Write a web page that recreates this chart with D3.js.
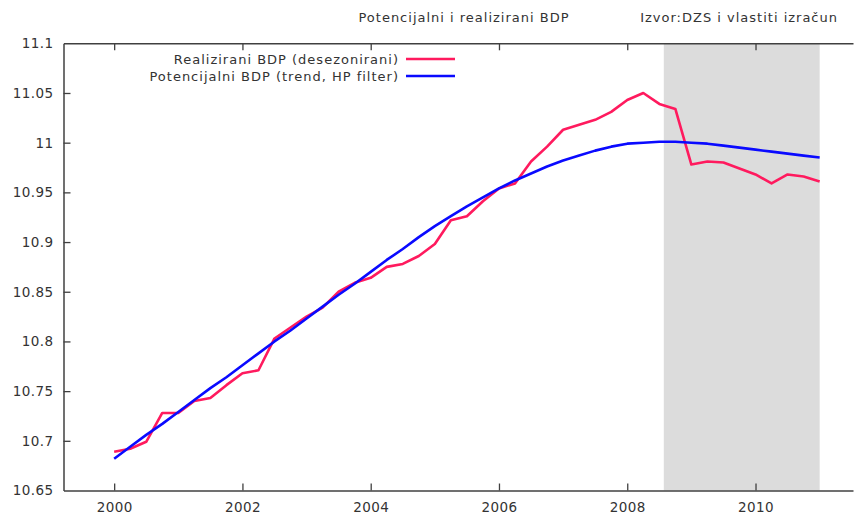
<!DOCTYPE html>
<html>
<head>
<meta charset="utf-8">
<script src="https://cdn.jsdelivr.net/npm/d3@7"></script>
<style>
  body { margin: 0; background: #fff; }
  svg { display: block; font-family: "DejaVu Sans", Verdana, sans-serif; }
  .tick text { fill: #333; }
  .label { font-size: 13px; letter-spacing: 1px; fill: #333; }
</style>
</head>
<body>
<svg width="854" height="516"></svg>
<script>
// quarterly, 2000Q1 .. 2011Q1
const startYear = 2000;
const realized = [
  10.689, 10.692, 10.699, 10.728,
  10.728, 10.740, 10.743, 10.756,
  10.768, 10.771, 10.803, 10.814,
  10.825, 10.834, 10.850, 10.859,
  10.864, 10.875, 10.878, 10.886,
  10.898, 10.922, 10.926, 10.941,
  10.954, 10.959, 10.981, 10.996,
  11.013, 11.018, 11.023, 11.031,
  11.043, 11.050, 11.039, 11.034,
  10.978, 10.981, 10.980, 10.974,
  10.968, 10.959, 10.968, 10.966,
  10.961,
];
const potential = [
  10.682, 10.694, 10.706, 10.717,
  10.729, 10.741, 10.753, 10.764,
  10.776, 10.788, 10.800, 10.811,
  10.823, 10.835, 10.847, 10.858,
  10.870, 10.882, 10.893, 10.905,
  10.916, 10.926, 10.936, 10.945,
  10.954, 10.962, 10.969, 10.976,
  10.982, 10.987, 10.992, 10.996,
  10.999, 11.000, 11.001, 11.001,
  11.000, 10.999, 10.997, 10.995,
  10.993, 10.991, 10.989, 10.987,
  10.985,
];
const shadeRange = [2008.57, 2011.0];
const xTicks = [2000, 2002, 2004, 2006, 2008, 2010];
const yTicks = [10.65, 10.7, 10.75, 10.8, 10.85, 10.9, 10.95, 11, 11.05, 11.1];
const seriesNames = ["Realizirani BDP (desezonirani)", "Potencijalni BDP (trend, HP filter)"];
const seriesColors = ["#ff1a5e", "#0a0aff"];

const svg = d3.select("svg");
const plotLeft = 63.5, plotRight = 853, plotTop = 43.3, plotBottom = 490.5;

const x = d3.scaleLinear().domain([1999.21, 2011.52]).range([plotLeft, plotRight]);
const y = d3.scaleLinear().domain([10.65, 11.1]).range([plotBottom, plotTop]);

// recession shading
svg.append("rect")
  .attr("x", x(shadeRange[0]))
  .attr("y", plotTop)
  .attr("width", x(shadeRange[1]) - x(shadeRange[0]))
  .attr("height", plotBottom - plotTop)
  .attr("fill", "#dcdcdc");

// axes
const axisColor = "#404040";
const xAxis = svg.append("g")
  .attr("transform", `translate(0,${plotBottom})`)
  .call(d3.axisBottom(x).tickValues(xTicks).tickFormat(d3.format("d")).tickSizeInner(-7).tickSizeOuter(0).tickPadding(12));
const xTop = svg.append("g")
  .attr("transform", `translate(0,${plotTop})`)
  .call(d3.axisTop(x).tickValues(xTicks).tickFormat("").tickSizeInner(-7).tickSizeOuter(0));
const yAxis = svg.append("g")
  .attr("transform", `translate(${plotLeft},0)`)
  .call(d3.axisLeft(y).tickValues(yTicks).tickFormat(d3.format("")).tickSizeInner(-7).tickSizeOuter(0).tickPadding(10));

[xAxis, xTop, yAxis].forEach((g) => {
  g.select(".domain").attr("stroke", axisColor).attr("stroke-width", 1.5);
  g.selectAll(".tick line").attr("stroke", axisColor).attr("stroke-width", 1.3);
  g.selectAll(".tick text").attr("font-size", 13.5).attr("font-family", "DejaVu Sans")
    .style("letter-spacing", "0.4px");
});
// the 10.65 / 11.1 ticks sit on the frame, keep only the labels
yAxis.selectAll(".tick").filter((d) => d === 10.65 || d === 11.1).select("line").remove();

// series
const line = d3.line()
  .x((d, i) => x(startYear + i / 4))
  .y((d) => y(d));

[realized, potential].forEach((s, i) => {
  svg.append("path")
    .datum(s)
    .attr("fill", "none")
    .attr("stroke", seriesColors[i])
    .attr("stroke-width", 2.6)
    .attr("stroke-linejoin", "round")
    .attr("d", line);
});

// legend
const legend = svg.append("g").attr("transform", "translate(0,59)");
seriesNames.forEach((name, i) => {
  const g = legend.append("g").attr("transform", `translate(0,${i * 17})`);
  g.append("text")
    .attr("class", "label")
    .attr("x", 399)
    .attr("dy", "0.35em")
    .attr("text-anchor", "end")
    .text(name);
  g.append("line")
    .attr("x1", 406).attr("x2", 455)
    .attr("stroke", seriesColors[i])
    .attr("stroke-width", 2.6);
});

// title and source
svg.append("text")
  .attr("class", "label")
  .attr("x", 464).attr("y", 22)
  .attr("text-anchor", "middle")
  .text("Potencijalni i realizirani BDP");
svg.append("text")
  .attr("class", "label")
  .attr("x", 838).attr("y", 22)
  .attr("text-anchor", "end")
  .text("Izvor:DZS i vlastiti izračun");
</script>
</body>
</html>
